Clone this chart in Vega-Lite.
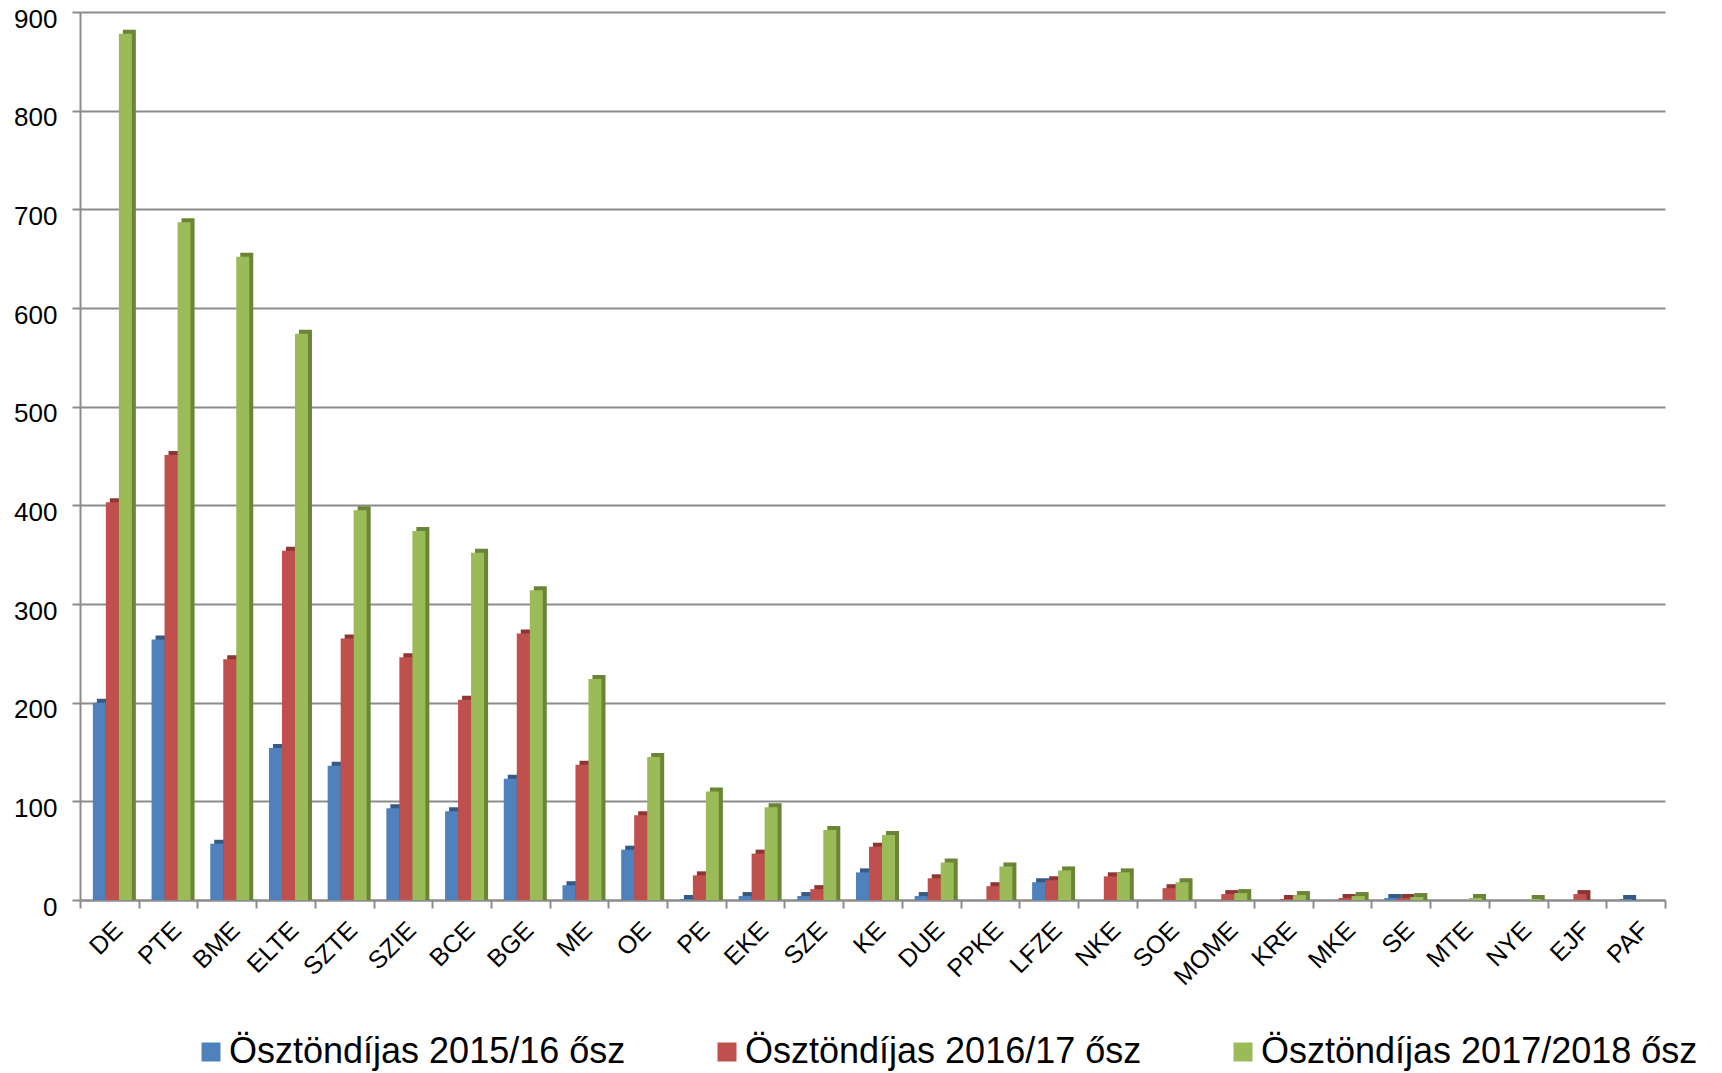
{
  "$schema": "https://vega.github.io/schema/vega-lite/v6.json",
  "width": 1600,
  "height": 888,
  "autosize": {"type": "none"},
  "padding": {"left": 80, "top": 12, "right": 42, "bottom": 173},
  "background": "white",
  "config": {"view": {"stroke": null}, "font": "Liberation Sans"},
  "data": {
    "values": [
      {"uni": "DE", "series": "Ösztöndíjas 2015/16 ősz", "value": 200},
      {"uni": "DE", "series": "Ösztöndíjas 2016/17 ősz", "value": 403},
      {"uni": "DE", "series": "Ösztöndíjas 2017/2018 ősz", "value": 878},
      {"uni": "PTE", "series": "Ösztöndíjas 2015/16 ősz", "value": 264},
      {"uni": "PTE", "series": "Ösztöndíjas 2016/17 ősz", "value": 451},
      {"uni": "PTE", "series": "Ösztöndíjas 2017/2018 ősz", "value": 687},
      {"uni": "BME", "series": "Ösztöndíjas 2015/16 ősz", "value": 57},
      {"uni": "BME", "series": "Ösztöndíjas 2016/17 ősz", "value": 244},
      {"uni": "BME", "series": "Ösztöndíjas 2017/2018 ősz", "value": 652},
      {"uni": "ELTE", "series": "Ösztöndíjas 2015/16 ősz", "value": 154},
      {"uni": "ELTE", "series": "Ösztöndíjas 2016/17 ősz", "value": 354},
      {"uni": "ELTE", "series": "Ösztöndíjas 2017/2018 ősz", "value": 574},
      {"uni": "SZTE", "series": "Ösztöndíjas 2015/16 ősz", "value": 136},
      {"uni": "SZTE", "series": "Ösztöndíjas 2016/17 ősz", "value": 265},
      {"uni": "SZTE", "series": "Ösztöndíjas 2017/2018 ősz", "value": 395},
      {"uni": "SZIE", "series": "Ösztöndíjas 2015/16 ősz", "value": 93},
      {"uni": "SZIE", "series": "Ösztöndíjas 2016/17 ősz", "value": 246},
      {"uni": "SZIE", "series": "Ösztöndíjas 2017/2018 ősz", "value": 374},
      {"uni": "BCE", "series": "Ösztöndíjas 2015/16 ősz", "value": 90},
      {"uni": "BCE", "series": "Ösztöndíjas 2016/17 ősz", "value": 203},
      {"uni": "BCE", "series": "Ösztöndíjas 2017/2018 ősz", "value": 352},
      {"uni": "BGE", "series": "Ösztöndíjas 2015/16 ősz", "value": 123},
      {"uni": "BGE", "series": "Ösztöndíjas 2016/17 ősz", "value": 270},
      {"uni": "BGE", "series": "Ösztöndíjas 2017/2018 ősz", "value": 314},
      {"uni": "ME", "series": "Ösztöndíjas 2015/16 ősz", "value": 15},
      {"uni": "ME", "series": "Ösztöndíjas 2016/17 ősz", "value": 137},
      {"uni": "ME", "series": "Ösztöndíjas 2017/2018 ősz", "value": 224},
      {"uni": "OE", "series": "Ösztöndíjas 2015/16 ősz", "value": 51},
      {"uni": "OE", "series": "Ösztöndíjas 2016/17 ősz", "value": 86},
      {"uni": "OE", "series": "Ösztöndíjas 2017/2018 ősz", "value": 145},
      {"uni": "PE", "series": "Ösztöndíjas 2015/16 ősz", "value": 1},
      {"uni": "PE", "series": "Ösztöndíjas 2016/17 ősz", "value": 25},
      {"uni": "PE", "series": "Ösztöndíjas 2017/2018 ősz", "value": 110},
      {"uni": "EKE", "series": "Ösztöndíjas 2015/16 ősz", "value": 4},
      {"uni": "EKE", "series": "Ösztöndíjas 2016/17 ősz", "value": 47},
      {"uni": "EKE", "series": "Ösztöndíjas 2017/2018 ősz", "value": 94},
      {"uni": "SZE", "series": "Ösztöndíjas 2015/16 ősz", "value": 4},
      {"uni": "SZE", "series": "Ösztöndíjas 2016/17 ősz", "value": 11},
      {"uni": "SZE", "series": "Ösztöndíjas 2017/2018 ősz", "value": 71},
      {"uni": "KE", "series": "Ösztöndíjas 2015/16 ősz", "value": 28},
      {"uni": "KE", "series": "Ösztöndíjas 2016/17 ősz", "value": 54},
      {"uni": "KE", "series": "Ösztöndíjas 2017/2018 ősz", "value": 66},
      {"uni": "DUE", "series": "Ösztöndíjas 2015/16 ősz", "value": 4},
      {"uni": "DUE", "series": "Ösztöndíjas 2016/17 ősz", "value": 22},
      {"uni": "DUE", "series": "Ösztöndíjas 2017/2018 ősz", "value": 38},
      {"uni": "PPKE", "series": "Ösztöndíjas 2016/17 ősz", "value": 14},
      {"uni": "PPKE", "series": "Ösztöndíjas 2017/2018 ősz", "value": 34},
      {"uni": "LFZE", "series": "Ösztöndíjas 2015/16 ősz", "value": 18},
      {"uni": "LFZE", "series": "Ösztöndíjas 2016/17 ősz", "value": 20},
      {"uni": "LFZE", "series": "Ösztöndíjas 2017/2018 ősz", "value": 30},
      {"uni": "NKE", "series": "Ösztöndíjas 2016/17 ősz", "value": 24},
      {"uni": "NKE", "series": "Ösztöndíjas 2017/2018 ősz", "value": 28},
      {"uni": "SOE", "series": "Ösztöndíjas 2016/17 ősz", "value": 12},
      {"uni": "SOE", "series": "Ösztöndíjas 2017/2018 ősz", "value": 18},
      {"uni": "MOME", "series": "Ösztöndíjas 2016/17 ősz", "value": 6},
      {"uni": "MOME", "series": "Ösztöndíjas 2017/2018 ősz", "value": 7},
      {"uni": "KRE", "series": "Ösztöndíjas 2016/17 ősz", "value": 1},
      {"uni": "KRE", "series": "Ösztöndíjas 2017/2018 ősz", "value": 5},
      {"uni": "MKE", "series": "Ösztöndíjas 2016/17 ősz", "value": 2},
      {"uni": "MKE", "series": "Ösztöndíjas 2017/2018 ősz", "value": 4},
      {"uni": "SE", "series": "Ösztöndíjas 2015/16 ősz", "value": 2},
      {"uni": "SE", "series": "Ösztöndíjas 2016/17 ősz", "value": 2},
      {"uni": "SE", "series": "Ösztöndíjas 2017/2018 ősz", "value": 3},
      {"uni": "MTE", "series": "Ösztöndíjas 2017/2018 ősz", "value": 2},
      {"uni": "NYE", "series": "Ösztöndíjas 2017/2018 ősz", "value": 1},
      {"uni": "EJF", "series": "Ösztöndíjas 2016/17 ősz", "value": 6},
      {"uni": "PAF", "series": "Ösztöndíjas 2015/16 ősz", "value": 1}
    ]
  },
  "encoding": {
    "x": {
      "field": "uni",
      "type": "nominal",
      "scale": {
        "domain": ["DE", "PTE", "BME", "ELTE", "SZTE", "SZIE", "BCE", "BGE", "ME", "OE", "PE", "EKE", "SZE", "KE", "DUE", "PPKE", "LFZE", "NKE", "SOE", "MOME", "KRE", "MKE", "SE", "MTE", "NYE", "EJF", "PAF"],
        "range": [0, 1585],
        "paddingInner": 0,
        "paddingOuter": 0
      },
      "axis": {
        "title": null,
        "labelAngle": -45,
        "labelAlign": "right",
        "labelBaseline": "top",
        "labelFontSize": 25,
        "labelColor": "#000000",
        "labelPadding": 9,
        "domainColor": "#8c8c8c",
        "domainWidth": 2,
        "tickColor": "#8c8c8c",
        "tickWidth": 2,
        "tickSize": 8,
        "tickBand": "extent",
        "grid": false
      }
    },
    "y": {
      "field": "value",
      "type": "quantitative",
      "stack": null,
      "scale": {"domain": [0, 900], "nice": false},
      "axis": {
        "title": null,
        "values": [0, 100, 200, 300, 400, 500, 600, 700, 800, 900],
        "labelFontSize": 26,
        "labelColor": "#000000",
        "labelPadding": 15,
        "labelOffset": 7,
        "domainColor": "#8c8c8c",
        "domainWidth": 2,
        "tickColor": "#8c8c8c",
        "tickWidth": 2,
        "tickSize": 8,
        "grid": true,
        "gridColor": "#8c8c8c",
        "gridWidth": 2
      }
    }
  },
  "layer": [
    {
      "transform": [{"filter": "datum.series === 'Ösztöndíjas 2015/16 ősz'"}],
      "mark": {"type": "bar", "width": 13, "xOffset": -6, "yOffset": -4, "y2Offset": -4, "color": "#355a86"}
    },
    {
      "transform": [{"filter": "datum.series === 'Ösztöndíjas 2016/17 ősz'"}],
      "mark": {"type": "bar", "width": 13, "xOffset": 7, "yOffset": -4, "y2Offset": -4, "color": "#8e3633"}
    },
    {
      "transform": [{"filter": "datum.series === 'Ösztöndíjas 2017/2018 ősz'"}],
      "mark": {"type": "bar", "width": 13, "xOffset": 20, "yOffset": -4, "y2Offset": -4, "color": "#6a8535"}
    },
    {
      "transform": [{"filter": "datum.series === 'Ösztöndíjas 2015/16 ősz'"}],
      "mark": {"type": "bar", "width": 13, "xOffset": -10},
      "encoding": {
        "color": {
          "field": "series",
          "type": "nominal",
          "scale": {
            "domain": ["Ösztöndíjas 2015/16 ősz", "Ösztöndíjas 2016/17 ősz", "Ösztöndíjas 2017/2018 ősz"],
            "range": ["#4f81bd", "#c0504d", "#9bbb59"]
          },
          "legend": {
            "title": null,
            "orient": "none",
            "legendX": 113,
            "legendY": 1022,
            "direction": "horizontal",
            "labelFontSize": 36,
            "labelColor": "#000000",
            "labelLimit": 0,
            "symbolType": "square",
            "symbolSize": 361,
            "symbolStrokeWidth": 0,
            "symbolOpacity": 1,
            "labelOffset": 0,
            "columnPadding": 83
          }
        }
      }
    },
    {
      "transform": [{"filter": "datum.series === 'Ösztöndíjas 2016/17 ősz'"}],
      "mark": {"type": "bar", "width": 13, "xOffset": 3},
      "encoding": {
        "color": {
          "field": "series",
          "type": "nominal",
          "scale": {
            "domain": ["Ösztöndíjas 2015/16 ősz", "Ösztöndíjas 2016/17 ősz", "Ösztöndíjas 2017/2018 ősz"],
            "range": ["#4f81bd", "#c0504d", "#9bbb59"]
          },
          "legend": {
            "title": null,
            "orient": "none",
            "legendX": 113,
            "legendY": 1022,
            "direction": "horizontal",
            "labelFontSize": 36,
            "labelColor": "#000000",
            "labelLimit": 0,
            "symbolType": "square",
            "symbolSize": 361,
            "symbolStrokeWidth": 0,
            "symbolOpacity": 1,
            "labelOffset": 0,
            "columnPadding": 83
          }
        }
      }
    },
    {
      "transform": [{"filter": "datum.series === 'Ösztöndíjas 2017/2018 ősz'"}],
      "mark": {"type": "bar", "width": 13, "xOffset": 16},
      "encoding": {
        "color": {
          "field": "series",
          "type": "nominal",
          "scale": {
            "domain": ["Ösztöndíjas 2015/16 ősz", "Ösztöndíjas 2016/17 ősz", "Ösztöndíjas 2017/2018 ősz"],
            "range": ["#4f81bd", "#c0504d", "#9bbb59"]
          },
          "legend": {
            "title": null,
            "orient": "none",
            "legendX": 113,
            "legendY": 1022,
            "direction": "horizontal",
            "labelFontSize": 36,
            "labelColor": "#000000",
            "labelLimit": 0,
            "symbolType": "square",
            "symbolSize": 361,
            "symbolStrokeWidth": 0,
            "symbolOpacity": 1,
            "labelOffset": 0,
            "columnPadding": 83
          }
        }
      }
    }
  ]
}
